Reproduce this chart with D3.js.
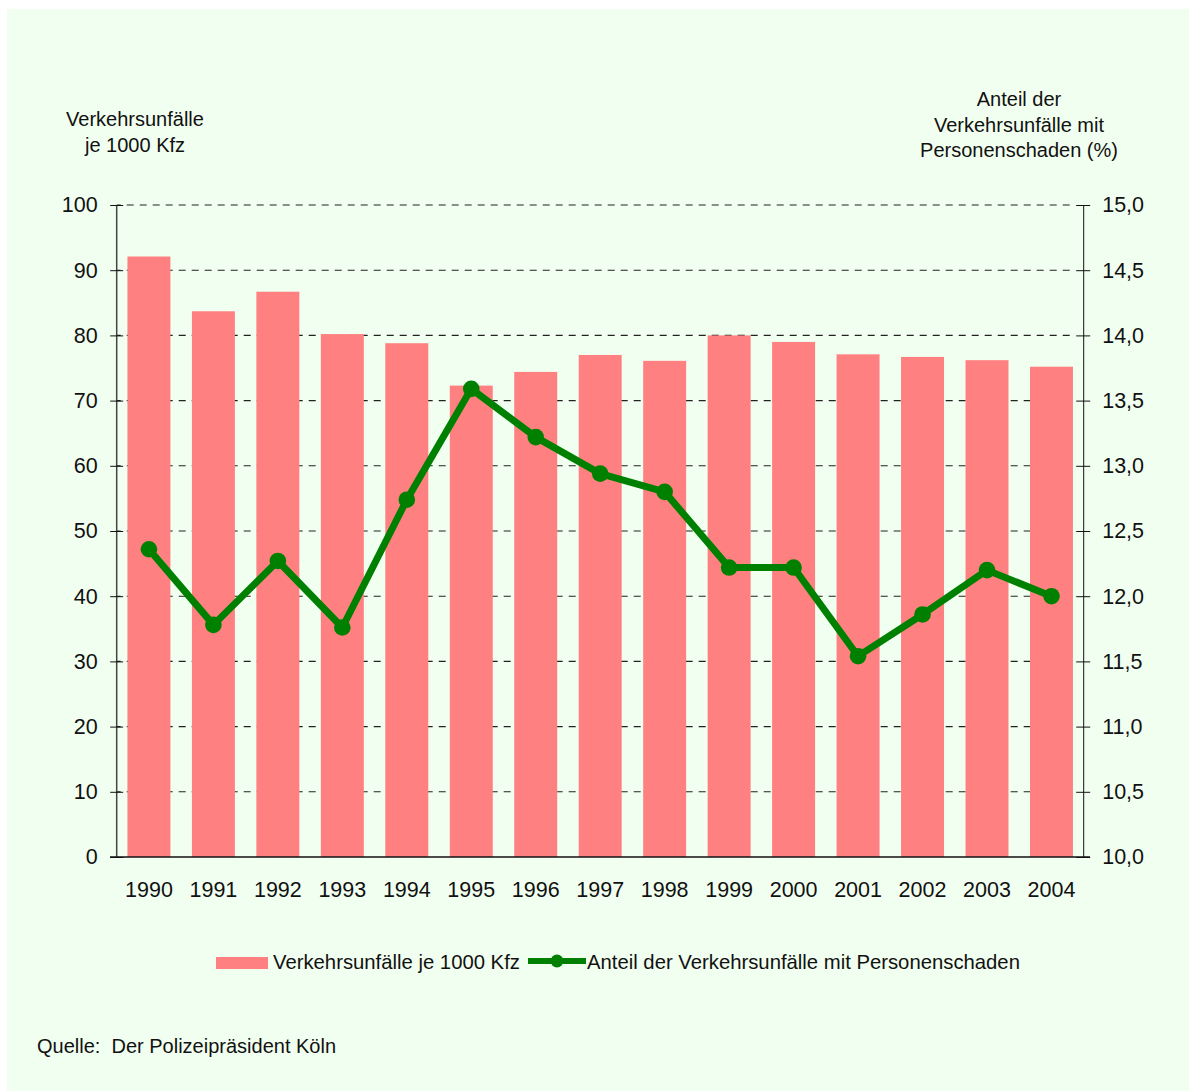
<!DOCTYPE html>
<html>
<head>
<meta charset="utf-8">
<script src="https://cdn.jsdelivr.net/npm/d3@7"></script>
<style>
html, body { margin: 0; padding: 0; background: #ffffff; }
svg { display: block; font-family: "Liberation Sans", Arial, sans-serif; }
</style>
</head>
<body>
<svg id="chart" width="1189" height="1091"></svg>
<script>
const years = ["1990","1991","1992","1993","1994","1995","1996","1997","1998","1999","2000","2001","2002","2003","2004"];
const unfaelleJe1000 = [92.1, 83.7, 86.7, 80.2, 78.8, 72.3, 74.4, 77.0, 76.1, 80.0, 79.0, 77.1, 76.7, 76.2, 75.2];
const anteilPersonenschaden = [12.36, 11.78, 12.27, 11.76, 12.74, 13.59, 13.22, 12.94, 12.80, 12.22, 12.22, 11.54, 11.86, 12.20, 12.00];
const leftTicks = [0, 10, 20, 30, 40, 50, 60, 70, 80, 90, 100];
const leftTickLabels = ["0", "10", "20", "30", "40", "50", "60", "70", "80", "90", "100"];
const rightTicks = [10, 10.5, 11, 11.5, 12, 12.5, 13, 13.5, 14, 14.5, 15];
const rightTickLabels = ["10,0", "10,5", "11,0", "11,5", "12,0", "12,5", "13,0", "13,5", "14,0", "14,5", "15,0"];
const leftTitle = ["Verkehrsunfälle", "je 1000 Kfz"];
const rightTitle = ["Anteil der", "Verkehrsunfälle mit", "Personenschaden (%)"];
const legendLabels = ["Verkehrsunfälle je 1000 Kfz", "Anteil der Verkehrsunfälle mit Personenschaden"];
const sourceText = "Quelle:  Der Polizeipräsident Köln";

const svg = d3.select("#chart");
const L = 116.7, R = 1083.7, T = 205, B = 857;
const barColor = "#FF8080", lineColor = "#008000", textColor = "#111111";

svg.append("rect").attr("x", 7).attr("y", 9).attr("width", 1189 - 7).attr("height", 1091 - 9).attr("fill", "#F1FFF0");

const x = d3.scaleBand().domain(years).range([L, R]).paddingInner(1/3).paddingOuter(1/6);
const yL = d3.scaleLinear().domain([0, 100]).range([B, T]);
const yR = d3.scaleLinear().domain([10, 15]).range([B, T]);

// grid lines
svg.append("g").selectAll("line").data(leftTicks.filter(d => d > 0)).join("line")
  .attr("x1", L).attr("x2", R - 12)
  .attr("y1", d => yL(d)).attr("y2", d => yL(d))
  .attr("stroke", "#222").attr("stroke-width", 1.1).attr("stroke-dasharray", "7,6").attr("stroke-dashoffset", 3);

// bars
svg.append("g").selectAll("rect").data(years).join("rect")
  .attr("x", d => x(d)).attr("width", x.bandwidth())
  .attr("y", (d, i) => yL(unfaelleJe1000[i]))
  .attr("height", (d, i) => B - yL(unfaelleJe1000[i]))
  .attr("fill", barColor);

// left axis
const axL = svg.append("g").attr("transform", `translate(${L},0)`)
  .call(d3.axisLeft(yL).tickValues(leftTicks).tickFormat((d, i) => leftTickLabels[i]).tickSize(6.5).tickPadding(12));
axL.select(".domain").attr("stroke", "#444").attr("stroke-width", 1.5).attr("d", `M0,${T}V${B}`);
axL.selectAll(".tick line").attr("x1", 6.5).attr("stroke", "#111");
axL.selectAll(".tick text").attr("font-size", 21.5).attr("fill", textColor).attr("font-family", "Liberation Sans, Arial, sans-serif").attr("dx", -0.5);

// right axis
const axR = svg.append("g").attr("transform", `translate(${R},0)`)
  .call(d3.axisRight(yR).tickValues(rightTicks).tickFormat((d, i) => rightTickLabels[i]).tickSize(6.5).tickPadding(12));
axR.select(".domain").attr("stroke", "#111").attr("stroke-width", 1).attr("d", `M0,${T}V${B}`);
axR.selectAll(".tick line").attr("x1", -7.5).attr("stroke", "#111");
axR.selectAll(".tick text").attr("font-size", 21.5).attr("fill", textColor).attr("font-family", "Liberation Sans, Arial, sans-serif");

// bottom axis
const axB = svg.append("g").attr("transform", `translate(0,${B})`)
  .call(d3.axisBottom(x).tickSize(0).tickPadding(0));
axB.select(".domain").attr("stroke", "#111").attr("stroke-width", 1.5).attr("d", `M110,0H1090`);
axB.selectAll(".tick text").attr("font-size", 21.5).attr("fill", textColor).attr("dy", 0).attr("y", 40)
  .attr("font-family", "Liberation Sans, Arial, sans-serif");

// line
const line = d3.line().x((d, i) => x(years[i]) + x.bandwidth() / 2).y(d => yR(d));
svg.append("path").datum(anteilPersonenschaden).attr("d", line)
  .attr("fill", "none").attr("stroke", lineColor).attr("stroke-width", 7).attr("stroke-linejoin", "round");
svg.append("g").selectAll("circle").data(anteilPersonenschaden).join("circle")
  .attr("cx", (d, i) => x(years[i]) + x.bandwidth() / 2).attr("cy", d => yR(d)).attr("r", 8.3)
  .attr("fill", lineColor);

// titles
svg.append("text").attr("x", 135).attr("y", 126).attr("text-anchor", "middle")
  .attr("font-size", 20).attr("fill", textColor)
  .selectAll("tspan").data(leftTitle).join("tspan")
  .attr("x", 135).attr("dy", (d, i) => i === 0 ? 0 : 25.5).text(d => d);
svg.append("text").attr("x", 1019).attr("y", 105.7).attr("text-anchor", "middle")
  .attr("font-size", 20).attr("fill", textColor)
  .selectAll("tspan").data(rightTitle).join("tspan")
  .attr("x", 1019).attr("dy", (d, i) => i === 0 ? 0 : 25.8).text(d => d);

// legend
const lg = svg.append("g");
lg.append("rect").attr("x", 216).attr("y", 957).attr("width", 52).attr("height", 12).attr("fill", barColor);
lg.append("text").attr("x", 273).attr("y", 969).attr("font-size", 20.3).attr("fill", textColor).text(legendLabels[0]);
lg.append("line").attr("x1", 528).attr("x2", 586).attr("y1", 961).attr("y2", 961).attr("stroke", lineColor).attr("stroke-width", 6);
lg.append("circle").attr("cx", 557).attr("cy", 961).attr("r", 6.5).attr("fill", lineColor);
lg.append("text").attr("x", 587).attr("y", 969).attr("font-size", 20.3).attr("fill", textColor).text(legendLabels[1]);

// source
svg.append("text").attr("x", 37).attr("y", 1053).attr("font-size", 20).attr("fill", textColor)
  .style("white-space", "pre").text(sourceText);
</script>
</body>
</html>
